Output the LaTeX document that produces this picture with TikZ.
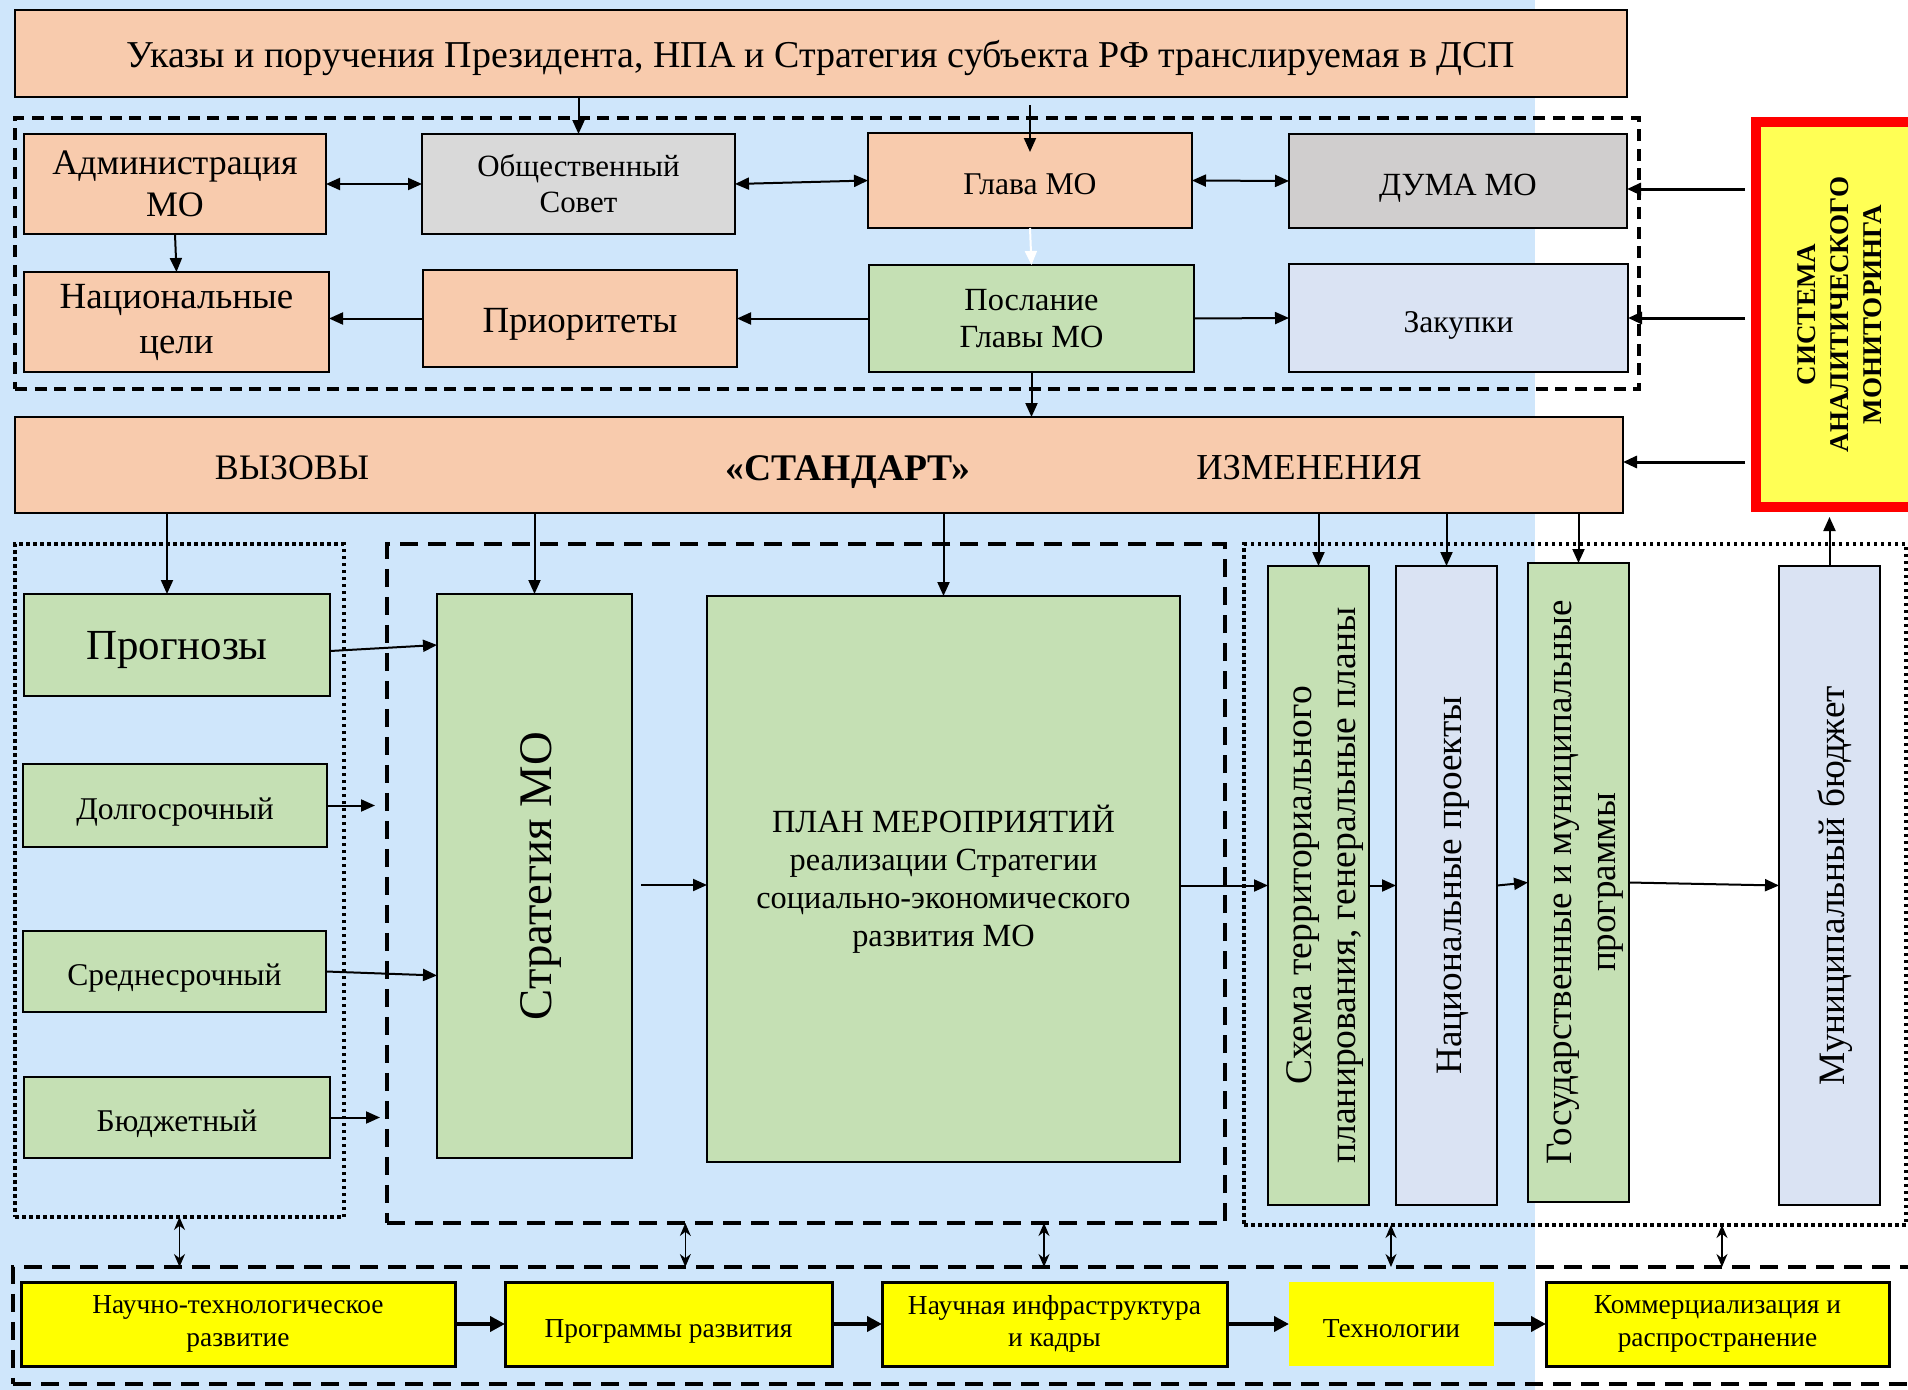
\documentclass[tikz,border=0pt]{standalone}
\usepackage{fontspec}
\setmainfont{Liberation Serif}
\usepackage{graphicx}
\usetikzlibrary{arrows.meta,calc}
\definecolor{bgblue}{RGB}{207,230,251}
\definecolor{boxpeach}{RGB}{248,203,173}
\definecolor{boxgray}{RGB}{217,217,217}
\definecolor{dumagray}{RGB}{208,206,206}
\definecolor{boxgreen}{RGB}{197,224,180}
\definecolor{boxlilac}{RGB}{218,227,243}
\definecolor{markyellow}{RGB}{255,255,0}
\definecolor{monyellow}{RGB}{255,255,85}
\definecolor{monred}{RGB}{255,0,0}
\newcommand{\fsz}[2]{\fontsize{#1}{#2}\selectfont}
\newcommand{\vtext}[1]{\hspace*{0.6mm}\rotatebox{90}{\begin{tabular}{@{}c@{}}#1\end{tabular}}\hspace*{-0.6mm}}

\begin{document}
\begin{tikzpicture}[x=0.1mm, y=-0.1mm,
    box/.style={draw=black, line width=0.25mm, rectangle, inner sep=2pt, align=center, outer sep=0pt},
    one/.style={text height=0.84em, text depth=0.02em},
    yone/.style={text height=0.76em, text depth=0.02em},
    ybox/.style={box, fill=markyellow, line width=0.3mm, minimum height=8.4mm, font=\fsz{7.8}{9.2}},
    grpdash/.style={draw=black, line width=0.4mm, dash pattern=on 1.2mm off 0.75mm, outer sep=0pt},
    grplong/.style={draw=black, line width=0.45mm, dash pattern=on 1.8mm off 1mm, outer sep=0pt},
    grpdot/.style={draw=black, line width=0.35mm, dash pattern=on 0.35mm off 0.35mm, outer sep=0pt},
    arr/.style={-{Triangle[length=1.4mm,width=1.2mm]}, line width=0.2mm},
    dbl/.style={{Triangle[length=1.4mm,width=1.2mm]}-{Triangle[length=1.4mm,width=1.2mm]}, line width=0.2mm},
    bi/.style={{Stealth[length=1.3mm,width=1.1mm]}-{Stealth[length=1.3mm,width=1.1mm]}, line width=0.15mm},
    yarr/.style={-{Triangle[length=1.5mm,width=1.5mm]}, line width=0.4mm}]

    % Background
    \fill[white] (0,0) rectangle (1908,1390);
    \fill[bgblue] (0,0) rectangle (1535,1390);
    \useasboundingbox (0,0) rectangle (1908,1390);

    % Groups
    \node[grpdash, minimum width=162.4mm, minimum height=27.1mm] (grptop) at (827,253.5) {};
    \node[grpdot, minimum width=32.9mm, minimum height=67.3mm] (grpleft) at (179.5,880.5) {};
    \node[grplong, minimum width=83.8mm, minimum height=67.9mm] (grpmid) at (806,883.5) {};
    \node[grpdot, minimum width=66.2mm, minimum height=68.1mm] (grpright) at (1575,884.5) {};
    \node[grplong, minimum width=190.2mm, minimum height=11.7mm] (grpbot) at (964,1325.5) {};

    % Top
    \node[box, one, fill=boxpeach, minimum width=161.2mm, minimum height=8.7mm, font=\fsz{10.8}{13}] (ukaz) at (821,53.5)
        {Указы и поручения Президента, НПА и Стратегия субъекта РФ транслируемая в ДСП};

    % Municipal level
    \node[box, fill=boxpeach, minimum width=30.2mm, minimum height=10mm, font=\fsz{10.2}{11.9}] (admin) at (175,184) {Администрация\\МО};
    \node[box, fill=boxgray, minimum width=31.3mm, minimum height=10mm, font=\fsz{8.8}{10.2}] (obsch) at (578.5,184) {Общественный\\Совет};
    \node[box, one, fill=boxpeach, minimum width=32.4mm, minimum height=9.5mm, font=\fsz{9}{10}] (glava) at (1030,180.5) {Глава МО};
    \node[box, one, fill=dumagray, minimum width=33.8mm, minimum height=9.4mm, font=\fsz{9.2}{11}] (duma) at (1458,181) {ДУМА МО};
    \node[box, fill=boxpeach, minimum width=30.5mm, minimum height=10mm, font=\fsz{10.5}{12.8}] (natcel) at (176.5,322) {Национальные\\цели};
    \node[box, one, fill=boxpeach, minimum width=31.4mm, minimum height=9.7mm, font=\fsz{10.5}{12}] (prior) at (580,318.5) {Приоритеты};
    \node[box, fill=boxgreen, minimum width=32.5mm, minimum height=10.7mm, font=\fsz{9.2}{10.7}] (poslan) at (1031.5,318.5) {Послание\\Главы МО};
    \node[box, one, fill=boxlilac, minimum width=33.9mm, minimum height=10.8mm, font=\fsz{9}{10}] (zakup) at (1458.5,318) {Закупки};

    % Standard
    \node[box, fill=boxpeach, minimum width=160.8mm, minimum height=9.6mm] (standart) at (819,465) {};
    \node[font=\fsz{10.2}{12}] (vyzov) at (292,468) {ВЫЗОВЫ};
    \node[font=\bfseries\fsz{10.7}{12}] (stdname) at (848,472) {«СТАНДАРТ»};
    \node[font=\fsz{10.4}{12}] (izmen) at (1309,468) {ИЗМЕНЕНИЯ};

    % Monitoring
    \node[box, draw=monred, line width=1mm, fill=monyellow, minimum width=16mm, minimum height=38.5mm,
        font=\bfseries\fsz{7.7}{9.3}] (mon) at (1836,314.5) {\vtext{СИСТЕМА\\АНАЛИТИЧЕСКОГО\\МОНИТОРИНГА}};

    % Forecasts
    \node[box, one, fill=boxgreen, minimum width=30.6mm, minimum height=10.2mm, font=\fsz{12.2}{14}] (prognoz) at (177,645) {Прогнозы};
    \node[box, one, fill=boxgreen, minimum width=30.4mm, minimum height=8.3mm, font=\fsz{9}{10}] (dolgo) at (175,805.5) {Долгосрочный};
    \node[box, one, fill=boxgreen, minimum width=30.3mm, minimum height=8.1mm, font=\fsz{9}{10}] (sredne) at (174.5,971.5) {Среднесрочный};
    \node[box, one, fill=boxgreen, minimum width=30.6mm, minimum height=8.1mm, font=\fsz{9}{10}] (budzh) at (177,1117.5) {Бюджетный};

    % Strategy and plan
    \node[box, fill=boxgreen, minimum width=19.5mm, minimum height=56.4mm, font=\fsz{13.3}{15}] (strat) at (534.5,876) {\vtext{Стратегия МО}};
    \node[box, fill=boxgreen, minimum width=47.3mm, minimum height=56.6mm, font=\fsz{9.2}{10.8}] (plan) at (943.5,879)
        {ПЛАН МЕРОПРИЯТИЙ\\реализации Стратегии\\социально-экономического\\развития МО};

    % Documents
    \node[box, fill=boxgreen, minimum width=10.1mm, minimum height=63.9mm, inner xsep=0pt, font=\fsz{10.7}{12.8}] (shema) at (1318.5,885.5)
        {\vtext{Схема территориального\\планирования, генеральные планы}};
    \node[box, fill=boxlilac, minimum width=10.1mm, minimum height=63.9mm, inner xsep=0pt, font=\fsz{10.6}{13}] (natproj) at (1446.5,885.5)
        {\vtext{Национальные проекты}};
    \node[box, fill=boxgreen, minimum width=10.1mm, minimum height=63.9mm, inner xsep=0pt, font=\fsz{10.55}{12.8}] (gosprog) at (1578.5,882.5)
        {\vtext{Государственные и муниципальные\\программы}};
    \node[box, fill=boxlilac, minimum width=10.1mm, minimum height=63.9mm, inner xsep=0pt, font=\fsz{10.6}{13}] (munbudz) at (1829.5,885.5)
        {\vtext{Муниципальный бюджет}};

    % Science row
    \node[ybox, minimum width=43.4mm] (ntr) at (238,1324) {Научно-технологическое\\развитие};
    \node[ybox, yone, minimum width=32.7mm] (progr) at (668.5,1324) {Программы развития};
    \node[ybox, minimum width=34.5mm] (infra) at (1054.5,1324) {Научная инфраструктура\\и кадры};
    \node[ybox, yone, draw=none, minimum width=20.5mm] (tech) at (1391.5,1324) {Технологии};
    \node[ybox, minimum width=34.3mm] (komm) at (1717.5,1324) {Коммерциализация и\\распространение};

    % Arrows, top
    \draw[arr] (obsch.north |- ukaz.south) -- (obsch.north);
    \coordinate (glavain) at ([yshift=2.8mm]glava.north);
    \draw[arr] (glavain) -- ([yshift=-1.9mm]glava.north);
    \draw[dbl] (admin.east) -- (obsch.west);
    \draw[dbl] (obsch.east) -- (glava.west);
    \draw[dbl] (glava.east) -- (duma.west);
    \draw[arr] (admin.south) -- (natcel.north);
    \draw[arr, white] (glava.south) -- (poslan.north);
    \draw[arr] (poslan.west) -- (prior.east);
    \draw[arr] (prior.west) -- (natcel.east |- prior.west);
    \draw[arr] (poslan.east) -- (zakup.west);
    \draw[arr] (poslan.south) -- (poslan.south |- standart.north);

    % Arrows, monitoring
    \draw[arr, line width=0.3mm] ($(mon.west |- duma.east)+(-11,8)$) -- ($(duma.east)+(0,8)$);
    \draw[arr, line width=0.3mm] ($(mon.west |- zakup.east)+(-11,0)$) -- (zakup.east);
    \draw[arr, line width=0.3mm] ($(mon.west |- standart.east)+(-11,-3)$) -- ($(standart.east)+(0,-3)$);
    \draw[arr] (munbudz.north) -- ($(munbudz.north |- mon.south)+(0,10)$);

    % Arrows, standard
    \draw[arr] ($(prognoz.north |- standart.south)+(-10,0)$) -- ($(prognoz.north)+(-10,0)$);
    \draw[arr] (strat.north |- standart.south) -- (strat.north);
    \draw[arr] (plan.north |- standart.south) -- (plan.north);
    \draw[arr] (shema.north |- standart.south) -- (shema.north);
    \draw[arr] (natproj.north |- standart.south) -- (natproj.north);
    \draw[arr] (gosprog.north |- standart.south) -- (gosprog.north);

    % Arrows, forecasts
    \draw[arr] ($(prognoz.east)+(0,6)$) -- (prognoz.east -| strat.west);
    \coordinate (dolgoend) at ([xshift=4.8mm]dolgo.east);
    \draw[arr] (dolgo.east) -- (dolgoend);
    \draw[arr] (sredne.east) -- ($(sredne.east -| strat.west)+(0,4)$);
    \coordinate (budzhend) at ([xshift=5mm]budzh.east);
    \draw[arr] (budzh.east) -- (budzhend);

    % Arrows, middle row
    \draw[arr] ($(strat.east |- plan.west)+(9,6)$) -- ($(plan.west)+(0,6)$);
    \draw[arr] (plan.east |- shema.west) -- (shema.west);
    \draw[arr] (shema.east) -- (natproj.west);
    \draw[arr] (natproj.east) -- (gosprog.west);
    \draw[arr] (gosprog.east) -- (munbudz.west);

    % Arrows, science
    \coordinate (bi1) at (grpleft.south);
    \coordinate (bi2) at ($(grpmid.south west)!0.356!(grpmid.south east)$);
    \coordinate (bi3) at ($(grpmid.south west)!0.784!(grpmid.south east)$);
    \coordinate (bi4) at ($(grpright.south west)!0.222!(grpright.south east)$);
    \coordinate (bi5) at ($(grpright.south west)!0.722!(grpright.south east)$);
    \foreach \b in {bi1,bi2,bi3,bi4,bi5}
        \draw[bi] (\b) -- (\b |- grpbot.north);
    \draw[yarr] (ntr.east) -- (progr.west);
    \draw[yarr] (progr.east) -- (infra.west);
    \draw[yarr] (infra.east) -- (tech.west);
    \draw[yarr] (tech.east) -- (komm.west);
\end{tikzpicture}
\end{document}
